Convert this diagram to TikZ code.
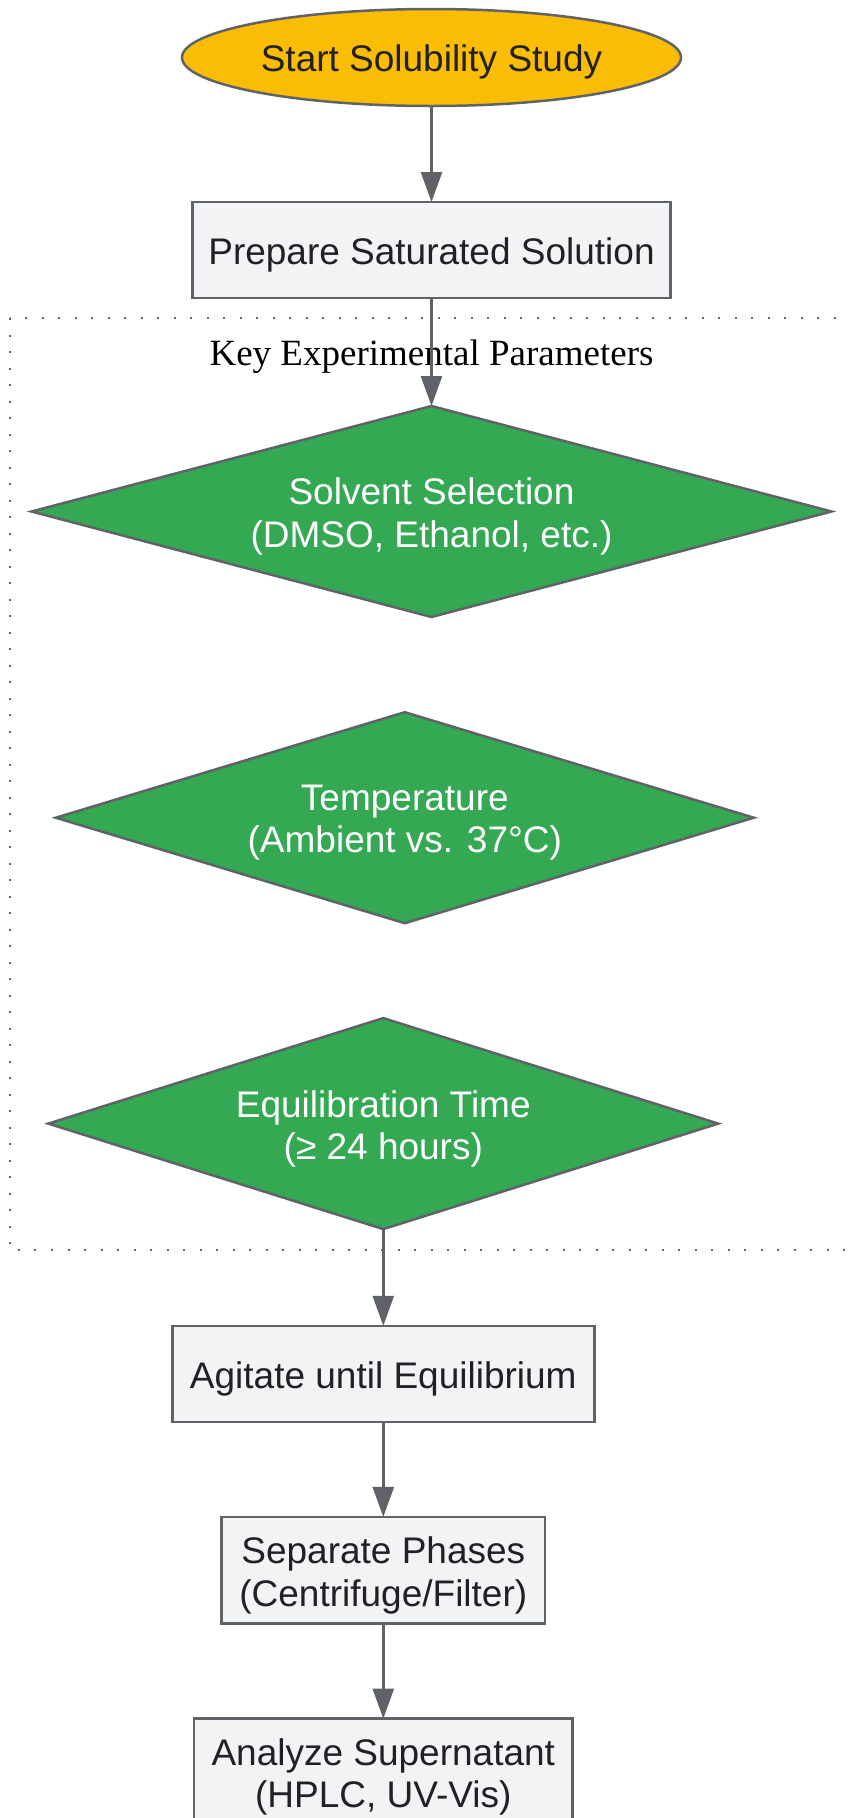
\documentclass[tikz,border=0pt]{standalone}
\usepackage{fontspec}
\setmainfont{Liberation Sans}
\newfontfamily\titlefont{Liberation Serif}
\usetikzlibrary{shapes.geometric,arrows.meta}
\definecolor{edgegrey}{HTML}{5F6368}
\definecolor{startyellow}{HTML}{FBBC04}
\definecolor{boxfill}{HTML}{F1F3F4}
\definecolor{paramgreen}{HTML}{34A853}
\definecolor{textdark}{HTML}{202124}
\definecolor{clustergrey}{HTML}{666666}
\begin{document}
\begin{tikzpicture}[x=1pt,y=-1pt,
  every node/.style={font=\fontsize{37}{42.5}\selectfont, align=center, inner sep=0pt, outer sep=0pt},
  startnode/.style={ellipse, draw=edgegrey, fill=startyellow, line width=2.5pt, minimum width=499pt, minimum height=97pt},
  stepbox/.style={rectangle, draw=edgegrey, fill=boxfill, line width=2.5pt},
  param/.style={diamond, draw=edgegrey, fill=paramgreen, line width=2.5pt, aspect=3.5},
  darklabel/.style={text=textdark},
  whitelabel/.style={text=white},
  flow/.style={draw=edgegrey, line width=2.5pt, -{Triangle[length=30pt,width=21pt]}},
  cluster/.style={draw=clustergrey, line width=2pt, dash pattern=on 2pt off 14.5pt}
]
\useasboundingbox (0,0) rectangle (849,1818);
\draw[cluster] (9.5,318) rectangle (860,1250);
\node[font=\titlefont\fontsize{37}{42.5}\selectfont, text=black] (cltitle) at (431.5,356.5) {Key Experimental Parameters};

\node[startnode] (start) at (431.5,57.5) {};
\node[stepbox, minimum width=478pt, minimum height=96pt] (prep) at (431.5,250) {};
\node[param, minimum width=800pt, minimum height=211pt] (d1) at (431.5,511.5) {};
\node[param, minimum width=698pt, minimum height=211pt] (d2) at (404.8,817.7) {};
\node[param, minimum width=670pt, minimum height=211pt] (d3) at (383.3,1123.6) {};
\node[stepbox, minimum width=422pt, minimum height=96pt] (agit) at (383.3,1373.8) {};
\node[stepbox, minimum width=323.6pt, minimum height=106.7pt] (sep) at (383.3,1570.3) {};
\node[stepbox, minimum width=378.5pt, minimum height=106.7pt] (anal) at (383.3,1772) {};

\node[darklabel] (start-t) at ([yshift=-4.8pt]start.center) {Start Solubility Study};
\node[darklabel] (prep-t) at ([yshift=-5pt]prep.center) {Prepare Saturated Solution};
\node[whitelabel] (d1-t) at ([yshift=-5pt]d1.center) {Solvent Selection\\(DMSO, Ethanol, etc.)};
\node[whitelabel] (d2-t) at ([yshift=-5pt]d2.center) {Temperature\\(Ambient vs. 37°C)};
\node[whitelabel] (d3-t) at ([yshift=-5.5pt]d3.center) {Equilibration Time\\(≥ 24 hours)};
\node[darklabel] (agit-t) at ([yshift=-5pt]agit.center) {Agitate until Equilibrium};
\node[darklabel] (sep-t) at ([yshift=-5pt]sep.center) {Separate Phases\\(Centrifuge/Filter)};
\node[darklabel] (anal-t) at ([yshift=-5pt]anal.center) {Analyze Supernatant\\(HPLC, UV-Vis)};

\draw[flow] (start) -- (prep);
\draw[flow] (prep) -- (d1);
\draw[flow] (d3) -- (agit);
\draw[flow] (agit) -- (sep);
\draw[flow] (sep) -- (anal);
\end{tikzpicture}
\end{document}
